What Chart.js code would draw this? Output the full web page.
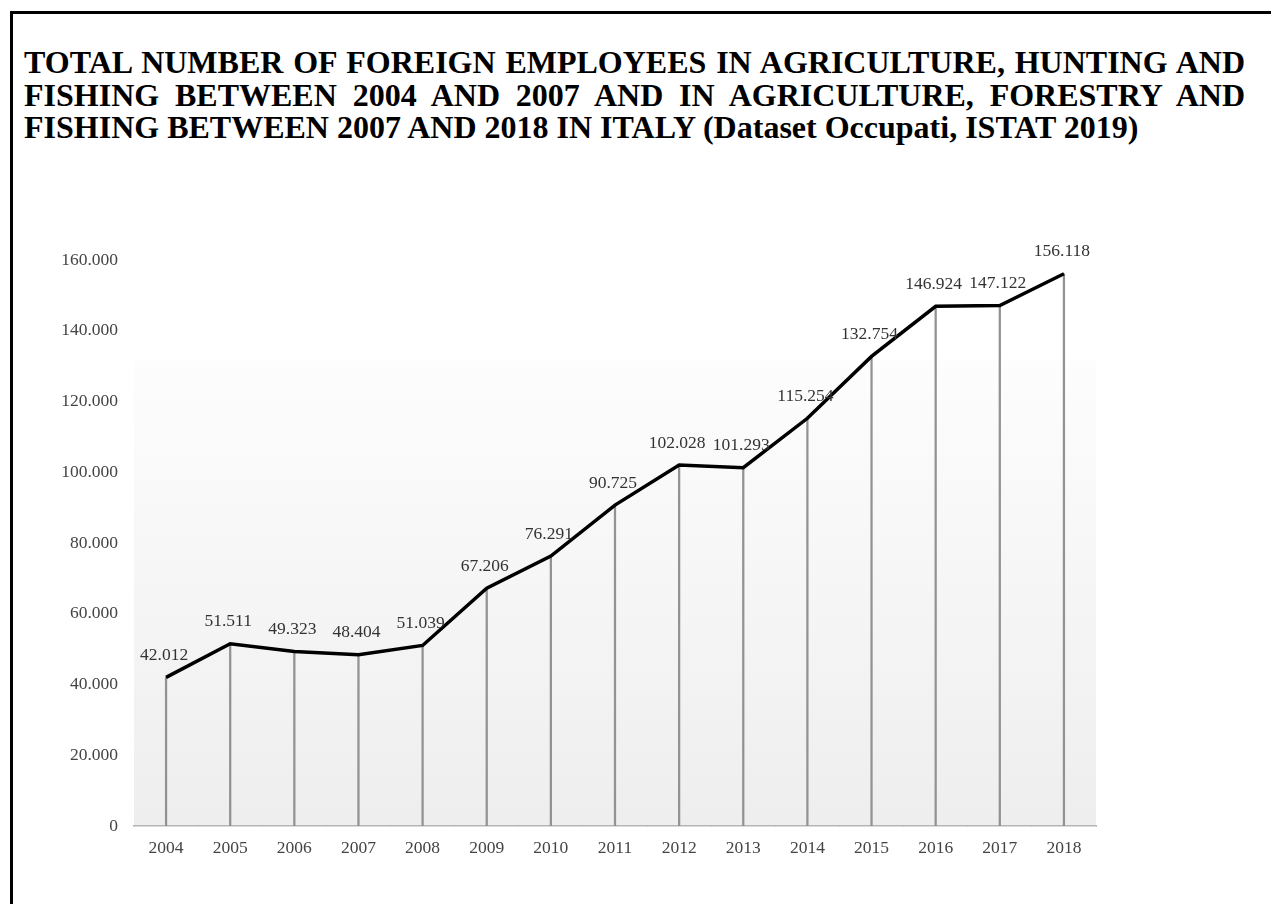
<!DOCTYPE html>
<html>
<head>
<meta charset="utf-8">
<script src="https://cdn.jsdelivr.net/npm/chart.js@4/dist/chart.umd.min.js"></script>
<style>
  html, body { margin: 0; padding: 0; background: #fff; }
  body { width: 1271px; height: 904px; position: relative; overflow: hidden; }
  .frame {
    position: absolute; left: 10px; top: 11px; right: -10px; bottom: -10px;
    border-left: 3px solid #000; border-top: 3px solid #000;
  }
  .title {
    position: absolute; left: 24px; top: 46px; width: 1221px;
    font-family: "Liberation Serif", "DejaVu Serif", serif;
    font-weight: bold; font-size: 32px; line-height: 32.5px; color: #000;
  }
  .title div { text-align: justify; text-align-last: justify; white-space: nowrap; }
  .title div.last { text-align-last: left; }
  .wrap { position: absolute; left: 20px; top: 230px; width: 1090px; height: 650px; }
</style>
</head>
<body>
<div class="frame"></div>
<div class="title">
  <div>TOTAL NUMBER OF FOREIGN EMPLOYEES IN AGRICULTURE, HUNTING AND</div>
  <div>FISHING BETWEEN 2004 AND 2007 AND IN AGRICULTURE, FORESTRY AND</div>
  <div class="last">FISHING BETWEEN 2007 AND 2018 IN ITALY (Dataset Occupati, ISTAT 2019)</div>
</div>
<div class="wrap"><canvas id="chart"></canvas></div>
<script>
const years = ['2004', '2005', '2006', '2007', '2008', '2009', '2010', '2011',
  '2012', '2013', '2014', '2015', '2016', '2017', '2018'];
const employees = [42012, 51511, 49323, 48404, 51039, 67206, 76291, 90725,
  102028, 101293, 115254, 132754, 146924, 147122, 156118];
const yTicks = [0, 20000, 40000, 60000, 80000, 100000, 120000, 140000, 160000];

const SERIF = '"Liberation Serif", "DejaVu Serif", serif';

// 156118 -> "156.118"
function fmt(n) {
  return String(n).replace(/\B(?=(\d{3})+(?!\d))/g, '.');
}

// soft grey wash behind the plot, fading out towards the top
const plotBg = {
  id: 'plotBg',
  beforeDraw(chart) {
    const { ctx, chartArea: a } = chart;
    const g = ctx.createLinearGradient(0, a.top, 0, a.bottom);
    g.addColorStop(0, '#ffffff');
    g.addColorStop(0.17, '#ffffff');
    g.addColorStop(0.18, '#fdfdfd');
    g.addColorStop(1, '#eeeeee');
    ctx.save();
    ctx.fillStyle = g;
    ctx.fillRect(a.left, a.top, a.right - a.left, a.bottom - a.top);
    ctx.restore();
  }
};

// value written above each point
const pointLabels = {
  id: 'pointLabels',
  afterDatasetsDraw(chart) {
    const { ctx } = chart;
    const meta = chart.getDatasetMeta(1);
    ctx.save();
    ctx.font = '17.5px ' + SERIF;
    ctx.fillStyle = '#333';
    ctx.textAlign = 'center';
    ctx.textBaseline = 'middle';
    meta.data.forEach((pt, i) => {
      ctx.fillText(fmt(employees[i]), pt.x - 2, pt.y - 22);
    });
    ctx.restore();
  }
};

new Chart(document.getElementById('chart'), {
  data: {
    labels: years,
    datasets: [
      {
        // thin drop lines from each point down to the axis
        type: 'bar',
        data: employees,
        backgroundColor: '#929292',
        barThickness: 1.6,
        order: 2,
      },
      {
        type: 'line',
        data: employees,
        borderColor: '#000',
        borderWidth: 3.5,
        tension: 0,
        pointRadius: 0,
        fill: false,
        order: 1,
      },
    ],
  },
  options: {
    responsive: true,
    maintainAspectRatio: false,
    animation: false,
    layout: { padding: { top: 30, right: 14, bottom: 14, left: 0 } },
    plugins: { legend: { display: false }, tooltip: { enabled: false } },
    scales: {
      x: {
        offset: true,
        grid: { display: true, drawOnChartArea: false, offset: true, tickLength: 0, color: '#bbb' },
        border: { display: true, color: '#b5b5b5', width: 1.5 },
        ticks: { color: '#444', font: { family: SERIF, size: 17.5 }, padding: 12 },
        afterFit(scale) { scale.height = 40; },
      },
      y: {
        min: 0,
        max: 160000,
        afterBuildTicks(scale) { scale.ticks = yTicks.map(v => ({ value: v })); },
        grid: { display: false },
        border: { display: false },
        ticks: {
          color: '#444',
          font: { family: SERIF, size: 17.5 },
          padding: 8,
          callback: v => fmt(v),
        },
        afterFit(scale) { scale.width = 114; },
      },
    },
  },
  plugins: [plotBg, pointLabels],
});
</script>
</body>
</html>
